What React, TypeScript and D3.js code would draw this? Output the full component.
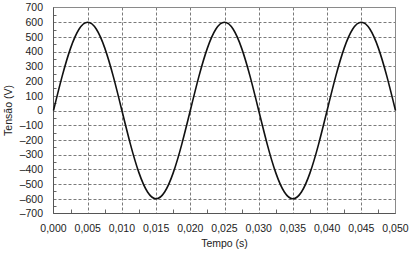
import React from "react";
import * as d3 from "d3";

const W = 413;
const H = 255;

// Voltage every 0.00125 s (0 .. 0.05 s)
const timeStep = 0.00125;
const voltage = [
  0, 230, 424, 554, 600, 554, 424, 230,
  0, -230, -424, -554, -600, -554, -424, -230,
  0, 230, 424, 554, 600, 554, 424, 230,
  0, -230, -424, -554, -600, -554, -424, -230,
  0, 230, 424, 554, 600, 554, 424, 230,
  0,
];

const xTicks = [0, 0.005, 0.01, 0.015, 0.02, 0.025, 0.03, 0.035, 0.04, 0.045, 0.05];
const xMinorTicks = [0.0025, 0.0075, 0.0125, 0.0175, 0.0225, 0.0275, 0.0325, 0.0375, 0.0425, 0.0475];
const yTicks = [-700, -600, -500, -400, -300, -200, -100, 0, 100, 200, 300, 400, 500, 600, 700];
const yMinorTicks = [-650, -550, -450, -350, -250, -150, -50, 50, 150, 250, 350, 450, 550, 650];

const xLabel = "Tempo (s)";
const yLabel = "Tensão (V)";

const margin = { left: 53.5, right: 17.5, top: 7.5, bottom: 41.5 };

export default function App() {
  const x = d3.scaleLinear().domain([0, 0.05]).range([margin.left, W - margin.right]);
  const y = d3.scaleLinear().domain([-700, 700]).range([H - margin.bottom, margin.top]);

  const pts: [number, number][] = voltage.map((v, i) => [i * timeStep, v]);
  const line = d3
    .line<[number, number]>()
    .x((d) => x(d[0]))
    .y((d) => y(d[1]))
    .curve(d3.curveNatural);

  const fmtX = (v: number) => v.toFixed(3).replace(".", ",");
  const fmtY = (v: number) => (v < 0 ? "\u2013" + Math.abs(v) : String(v));

  const font = "'Liberation Sans', Arial, sans-serif";
  const x0 = x(0), x1 = x(0.05), y0 = y(-700), y1 = y(700);

  return (
    <svg
      width={W}
      height={H}
      style={{ position: "fixed", left: 0, top: 0, background: "#fff" }}
      fontFamily={font}
    >
      <rect x={0} y={0} width={W} height={H} fill="#fff" />
      {/* grid */}
      <g stroke="#7a7a7a" strokeWidth={1} strokeDasharray="3,2" fill="none">
        {xTicks.filter((t) => t > 0 && t < 0.05).map((t) => (
          <line key={"gx" + t} x1={Math.round(x(t)) + 0.5} x2={Math.round(x(t)) + 0.5} y1={y1} y2={y0} />
        ))}
        {yTicks.filter((t) => t > -700 && t < 700).map((t) => (
          <line key={"gy" + t} x1={x0} x2={x1} y1={Math.round(y(t)) + 0.5} y2={Math.round(y(t)) + 0.5} />
        ))}
      </g>
      {/* minor ticks */}
      <g stroke="#666" strokeWidth={1}>
        {xMinorTicks.map((t) => (
          <line key={"mx" + t} x1={Math.round(x(t)) + 0.5} x2={Math.round(x(t)) + 0.5} y1={y0} y2={y0 - 4} />
        ))}
        {yMinorTicks.map((t) => (
          <line key={"my" + t} x1={x0} x2={x0 + 3} y1={Math.round(y(t)) + 0.5} y2={Math.round(y(t)) + 0.5} />
        ))}
      </g>
      {/* frame */}
      <rect x={x0} y={y1} width={x1 - x0} height={y0 - y1} fill="none" stroke="#8a8a8a" strokeWidth={1} />
      <line x1={x0} x2={x0} y1={y1} y2={y0} stroke="#555" />
      <line x1={x0} x2={x1} y1={y0} y2={y0} stroke="#555" />
      {/* curve */}
      <path d={line(pts) || ""} fill="none" stroke="#111" strokeWidth={1.6} />
      {/* y tick labels */}
      <g fontSize={10.5} fill="#222" textAnchor="end">
        {yTicks.map((t) => (
          <text key={"ly" + t} x={43} y={y(t)} dy="0.36em">
            {fmtY(t)}
          </text>
        ))}
      </g>
      {/* x tick labels */}
      <g fontSize={10.5} fill="#222" textAnchor="middle">
        {xTicks.map((t) => (
          <text key={"lx" + t} x={x(t)} y={232}>
            {fmtX(t)}
          </text>
        ))}
      </g>
      <text x={(x0 + x1) / 2} y={247} textAnchor="middle" fontSize={10.5} fill="#222">
        {xLabel}
      </text>
      <text
        transform={`translate(12, ${(y0 + y1) / 2}) rotate(-90)`}
        textAnchor="middle"
        fontSize={10.5}
        fill="#222"
      >
        {yLabel}
      </text>
    </svg>
  );
}
